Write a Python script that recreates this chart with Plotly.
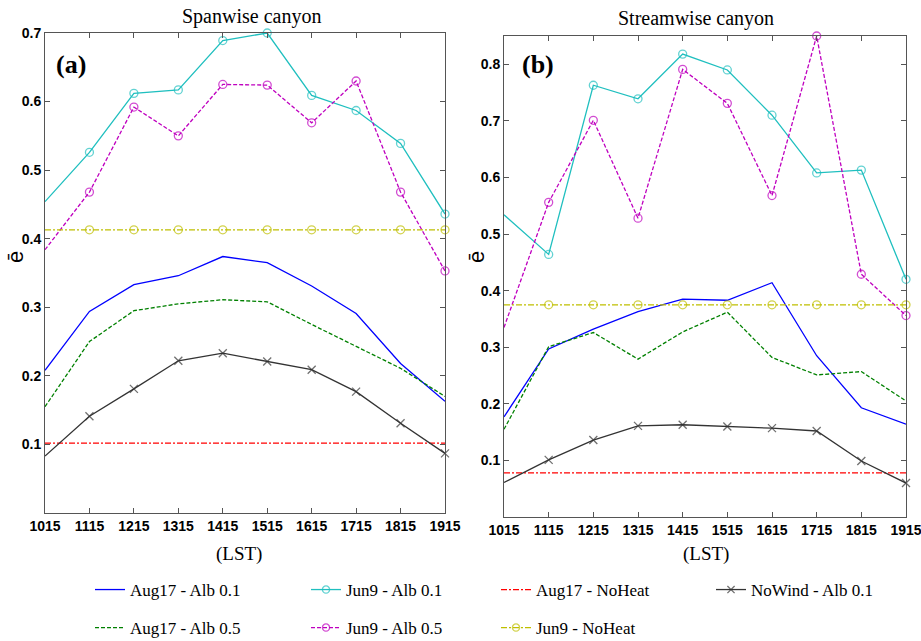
import plotly.graph_objects as go

W, H = 921, 641

lst = [1015, 1115, 1215, 1315, 1415, 1515, 1615, 1715, 1815, 1915]
lst_labels = [str(v) for v in lst]

# Panel (a) Spanwise canyon
a_aug17_alb01 = [0.208, 0.294, 0.333, 0.346, 0.374, 0.365, 0.331, 0.291, 0.218, 0.163]
a_jun9_alb01 = [0.454, 0.526, 0.612, 0.617, 0.689, 0.700, 0.609, 0.587, 0.539, 0.436]
a_aug17_noheat = [0.102] * 10
a_nowind_alb01 = [0.083, 0.141, 0.181, 0.222, 0.233, 0.221, 0.209, 0.177, 0.131, 0.087]
a_aug17_alb05 = [0.155, 0.250, 0.295, 0.305, 0.311, 0.308, 0.275, 0.243, 0.211, 0.170]
a_jun9_alb05 = [0.384, 0.468, 0.592, 0.550, 0.625, 0.624, 0.569, 0.630, 0.468, 0.353]
a_jun9_noheat = [0.413] * 10

# Panel (b) Streamwise canyon
b_aug17_alb01 = [0.177, 0.297, 0.332, 0.363, 0.385, 0.383, 0.414, 0.285, 0.193, 0.164]
b_jun9_alb01 = [0.534, 0.464, 0.763, 0.739, 0.818, 0.790, 0.710, 0.608, 0.613, 0.420]
b_aug17_noheat = [0.078] * 10
b_nowind_alb01 = [0.061, 0.101, 0.136, 0.161, 0.163, 0.160, 0.157, 0.152, 0.099, 0.060]
b_aug17_alb05 = [0.155, 0.301, 0.326, 0.279, 0.327, 0.362, 0.282, 0.251, 0.257, 0.205]
b_jun9_alb05 = [0.335, 0.556, 0.701, 0.528, 0.791, 0.731, 0.568, 0.850, 0.429, 0.356]
b_jun9_noheat = [0.375] * 10

series_names = ["Aug17 - Alb 0.1", "Jun9 - Alb 0.1", "Aug17 - NoHeat", "NoWind - Alb 0.1",
                "Aug17 - Alb 0.5", "Jun9 - Alb 0.5", "Jun9 - NoHeat"]
panel_a = [a_aug17_alb01, a_jun9_alb01, a_aug17_noheat, a_nowind_alb01,
           a_aug17_alb05, a_jun9_alb05, a_jun9_noheat]
panel_b = [b_aug17_alb01, b_jun9_alb01, b_aug17_noheat, b_nowind_alb01,
           b_aug17_alb05, b_jun9_alb05, b_jun9_noheat]

styles = [
    dict(color="#0000FF", dash="solid", symbol=None),
    dict(color="#1FBFBF", dash="solid", symbol="circle-open"),
    dict(color="#FF0000", dash="6px,2px,2px,2px", symbol=None),
    dict(color="#333333", dash="solid", symbol="x-thin-open"),
    dict(color="#008000", dash="4px,2px", symbol=None),
    dict(color="#BF00BF", dash="4px,2px", symbol="circle-open"),
    dict(color="#BFBF00", dash="6px,2px,2px,2px", symbol="circle-open"),
]

SERIF = "Liberation Serif, Times New Roman, serif"
SANS = "Liberation Sans, Arial, sans-serif"


def px(x):
    return x / W


def py(y):
    return 1 - y / H


fig = go.Figure()
legend_ids = ["legend", "legend2", "legend3", "legend4", "legend5", "legend6", "legend7"]

for i, (name, st) in enumerate(zip(series_names, styles)):
    for p, (vals, xa, ya) in enumerate([(panel_a[i], "x", "y"), (panel_b[i], "x2", "y2")]):
        n = len(vals)
        kw = dict(x=lst, y=vals, xaxis=xa, yaxis=ya, name=name,
                  line=dict(color=st["color"], width=1.3, dash=st["dash"]),
                  showlegend=(p == 0), legend=legend_ids[i], cliponaxis=False)
        if st["symbol"]:
            sz = [0] + [8] * (n - 1)
            kw["mode"] = "lines+markers"
            kw["marker"] = dict(symbol=st["symbol"], size=sz, color=st["color"],
                                line=dict(color=st["color"], width=1.3))
        else:
            kw["mode"] = "lines"
        fig.add_trace(go.Scatter(**kw))

axis_common = dict(showline=True, linecolor="#555555", linewidth=1, mirror="ticks",
                   ticks="inside", ticklen=5, tickcolor="#555555", showgrid=False,
                   zeroline=False, ticklabeloverflow="allow",
                   tickfont=dict(family=SANS, size=14, color="black", weight="bold"))

fig.update_layout(
    width=W, height=H, margin=dict(l=0, r=0, t=0, b=0, autoexpand=False),
    paper_bgcolor="white", plot_bgcolor="white",
    xaxis=dict(domain=[px(45), px(445)], range=[1015, 1915], tickvals=lst, ticktext=lst_labels,
               anchor="y", **axis_common),
    yaxis=dict(domain=[py(513), py(33)], range=[0, 0.7],
               tickvals=[0.1, 0.2, 0.3, 0.4, 0.5, 0.6, 0.7], anchor="x", **axis_common),
    xaxis2=dict(domain=[px(504), px(906)], range=[1015, 1915], tickvals=lst, ticktext=lst_labels,
                anchor="y2", **axis_common),
    yaxis2=dict(domain=[py(517), py(36)], range=[0, 0.85],
                tickvals=[0.1, 0.2, 0.3, 0.4, 0.5, 0.6, 0.7, 0.8], anchor="x2", **axis_common),
    showlegend=True,
)

# legends: one per entry, placed in a 4 x 2 grid
text_x = [141, 357, 547, 762]
row_y = [590, 628]
for i, lid in enumerate(legend_ids):
    col = i % 4
    row = i // 4
    fig.layout[lid] = dict(x=px(text_x[col] - 51), y=py(row_y[row]), xanchor="left", yanchor="middle",
                           bgcolor="rgba(0,0,0,0)", borderwidth=0,
                           font=dict(family=SERIF, size=17, color="black"),
                           itemwidth=30)

ann = [
    dict(x=px(251), y=py(16), text="Spanwise canyon", font=dict(family=SERIF, size=20)),
    dict(x=px(696), y=py(18), text="Streamwise canyon", font=dict(family=SERIF, size=20)),
    dict(x=px(71), y=py(65), text="<b>(a)</b>", font=dict(family=SERIF, size=26)),
    dict(x=px(538), y=py(65), text="<b>(b)</b>", font=dict(family=SERIF, size=26)),
    dict(x=px(239), y=py(554), text="(LST)", font=dict(family=SERIF, size=19)),
    dict(x=px(706), y=py(554), text="(LST)", font=dict(family=SERIF, size=19)),
    dict(x=px(15), y=py(257), text="ē", textangle=-90, font=dict(family=SANS, size=22)),
    dict(x=px(476), y=py(257), text="ē", textangle=-90, font=dict(family=SANS, size=22)),
]
for a in ann:
    a.update(xref="paper", yref="paper", showarrow=False, xanchor="center", yanchor="middle")
    a["font"]["color"] = "black"
fig.update_layout(annotations=ann)

fig.write_html("out.html")
